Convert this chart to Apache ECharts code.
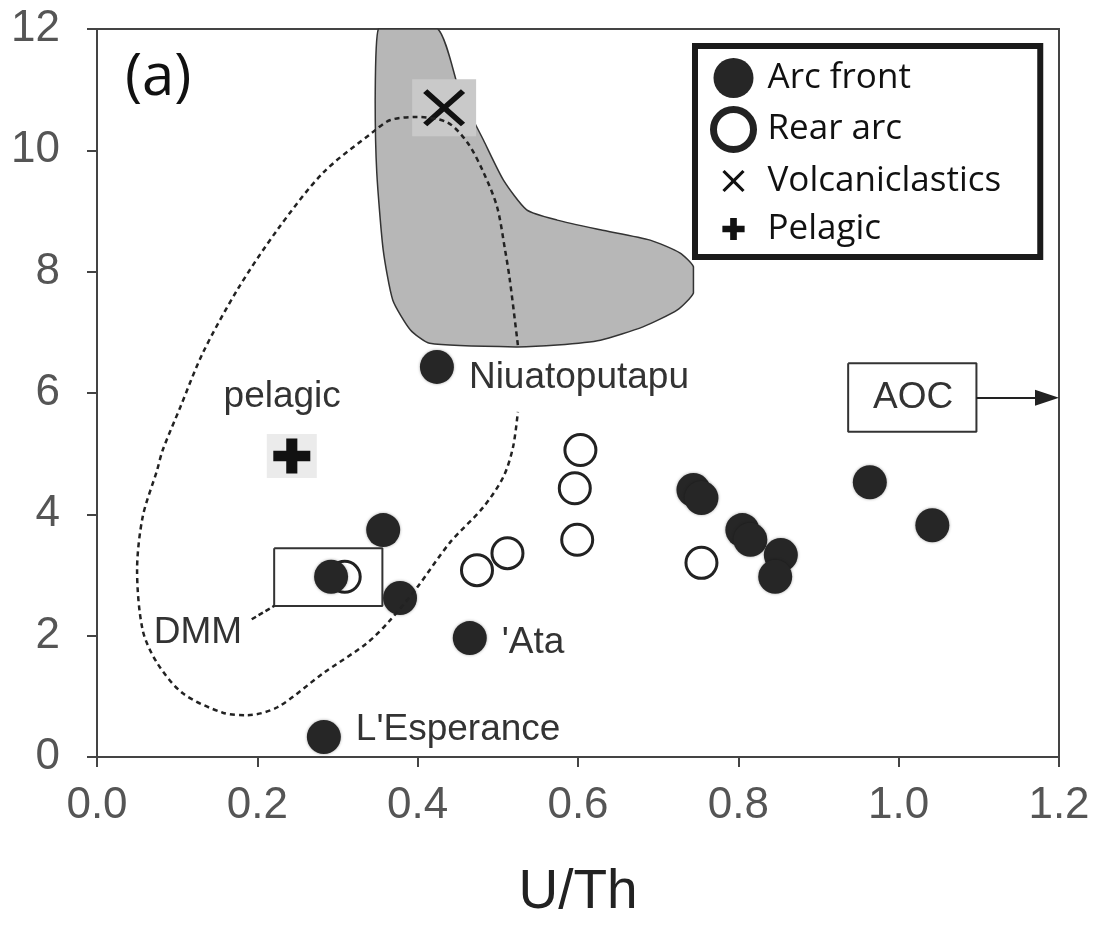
<!DOCTYPE html>
<html>
<head>
<meta charset="utf-8">
<title>U/Th</title>
<script src="https://cdn.jsdelivr.net/npm/echarts@6/dist/echarts.min.js"></script>
<style>
  html, body { margin: 0; padding: 0; background: #fff; }
  #chart { width: 1094px; height: 926px; }
</style>
</head>
<body>
<div id="chart"></div>
<script>
// arc front (filled circles)
const arcFrontX = [0.424, 0.357, 0.378, 0.465, 0.283, 0.292, 0.744, 0.754, 0.805, 0.815, 0.853, 0.846, 0.964, 1.042];
const arcFrontY = [6.43, 3.74, 2.62, 1.96, 0.33, 2.97, 4.40, 4.27, 3.74, 3.58, 3.33, 2.97, 4.53, 3.82];
const arcFrontNames = ['Niuatoputapu', '', '', "'Ata", "L'Esperance", '', '', '', '', '', '', '', '', ''];

// rear arc (open circles)
const rearArcX = [0.603, 0.596, 0.599, 0.512, 0.474, 0.754, 0.309];
const rearArcY = [5.06, 4.43, 3.58, 3.36, 3.08, 3.20, 2.97];

const volcX = [0.433];
const volcY = [10.70];
const pelagicX = [0.243];
const pelagicY = [4.96];

// grey field (volcaniclastics)
const fieldX = [0.351, 0.425, 0.453, 0.482, 0.507, 0.536, 0.574, 0.628, 0.690, 0.727, 0.744, 0.744, 0.724, 0.681, 0.628, 0.574, 0.524, 0.415, 0.391, 0.369, 0.357, 0.349, 0.347];
const fieldY = [12.0, 12.0, 10.94, 10.17, 9.51, 9.02, 8.85, 8.69, 8.52, 8.31, 8.08, 7.65, 7.37, 7.09, 6.87, 6.79, 6.76, 6.82, 7.04, 7.53, 8.36, 9.63, 10.83];

// dashed field outline
const curveX = [0.525, 0.515, 0.509, 0.499, 0.482, 0.462, 0.437, 0.399, 0.366, 0.344, 0.282, 0.225, 0.175, 0.132, 0.104, 0.082, 0.075, 0.057, 0.050, 0.057, 0.075, 0.107, 0.157, 0.187, 0.225, 0.282, 0.337, 0.366, 0.399, 0.440, 0.482, 0.507, 0.519, 0.525];
const curveY = [6.79, 7.86, 8.36, 9.07, 9.64, 10.13, 10.46, 10.55, 10.50, 10.30, 9.63, 8.69, 7.70, 6.66, 5.77, 5.06, 4.73, 3.96, 3.08, 2.09, 1.55, 1.05, 0.73, 0.69, 0.82, 1.38, 1.88, 2.26, 2.79, 3.53, 4.12, 4.62, 5.11, 5.69];

// DMM box and leader
const dmmBoxX = [0.221, 0.356, 0.356, 0.221, 0.221];
const dmmBoxY = [3.44, 3.44, 2.49, 2.49, 3.44];
const dmmLeadX = [0.193, 0.221];
const dmmLeadY = [2.27, 2.49];

// AOC box and arrow
const aocBoxX = [0.937, 1.097, 1.097, 0.937, 0.937];
const aocBoxY = [6.49, 6.49, 5.36, 5.36, 6.49];
const aocArrowX = [1.097, 1.185];
const aocArrowY = [5.92, 5.92];

// free text
const noteText = ['pelagic', 'DMM', 'AOC'];
const noteX = [0.231, 0.126, 1.018];
const noteY = [5.93, 2.04, 5.92];

const pair = (xs, ys) => xs.map((x, i) => [x, ys[i]]);

const crossPath = 'path://M0,1L1,0L5,4L9,0L10,1L6,5L10,9L9,10L5,6L1,10L0,9L4,5Z';
const plusPath = 'path://M3.5,0H6.5V3.5H10V6.5H6.5V10H3.5V6.5H0V3.5H3.5Z';
// same shapes with empty margin for the legend
const crossIcon = 'path://M-4,-4M14,14M0,1L1,0L5,4L9,0L10,1L6,5L10,9L9,10L5,6L1,10L0,9L4,5Z';
const plusIcon = 'path://M-4,-4M14,14M3.5,0H6.5V3.5H10V6.5H6.5V10H3.5V6.5H0V3.5H3.5Z';

const labelOffset = { 'Niuatoputapu': [0, 11], "'Ata": [0, 5], "L'Esperance": [0, -7] };
const textStyleA = { fontFamily: 'Liberation Sans, Arial, sans-serif', fontSize: 37, color: '#333' };

const chart = echarts.init(document.getElementById('chart'));

const option = {
  animation: false,
  backgroundColor: '#fff',
  title: {
    text: '(a)',
    left: 120,
    top: 44,
    textStyle: { fontFamily: 'Open Sans', fontSize: 58, fontWeight: 'normal', color: '#111' }
  },
  legend: {
    orient: 'vertical',
    left: 695,
    top: 46,
    padding: [12, 39, 8, 15],
    itemWidth: 40,
    itemHeight: 40,
    itemGap: 8,
    borderColor: '#1a1a1a',
    borderWidth: 6,
    backgroundColor: '#fff',
    textStyle: { fontFamily: 'Open Sans', fontSize: 35, color: '#111', padding: [0, 0, 0, 9] },
    data: [
      { name: 'Arc front' },
      { name: 'Rear arc', itemStyle: { borderWidth: 7 } },
      { name: 'Volcaniclastics', icon: crossIcon },
      { name: 'Pelagic', icon: plusIcon }
    ]
  },
  grid: {
    left: 97, right: 35, top: 29, bottom: 169,
    show: true, borderColor: '#444', borderWidth: 2
  },
  xAxis: {
    type: 'value',
    min: 0, max: 1.2, interval: 0.2,
    name: 'U/Th',
    nameLocation: 'middle',
    nameGap: 108,
    nameTextStyle: { fontFamily: 'Liberation Sans, Arial, sans-serif', fontSize: 55, color: '#222' },
    axisLine: { lineStyle: { color: '#444', width: 2 } },
    axisTick: { length: 10, lineStyle: { color: '#444', width: 2 } },
    splitLine: { show: false },
    axisLabel: {
      margin: 27,
      fontFamily: 'Liberation Sans, Arial, sans-serif', fontSize: 44, color: '#555',
      formatter: v => v.toFixed(1)
    }
  },
  yAxis: {
    type: 'value',
    min: 0, max: 12, interval: 2,
    axisLine: { show: true, lineStyle: { color: '#444', width: 2 } },
    axisTick: { show: true, length: 10, lineStyle: { color: '#444', width: 2 } },
    splitLine: { show: false },
    axisLabel: {
      margin: 37,
      fontFamily: 'Liberation Sans, Arial, sans-serif', fontSize: 44, color: '#555'
    }
  },
  series: [
    {
      name: 'field',
      type: 'custom',
      silent: true,
      data: [[0.5, 9]],
      renderItem: function (params, api) {
        const pts = fieldX.map((x, i) => api.coord([x, fieldY[i]]));
        const xs = pts.map(p => p[0]);
        const ys = pts.map(p => p[1]);
        const box = [[Math.min(...xs), Math.min(...ys)], [Math.max(...xs), Math.max(...ys)]];
        return {
          type: 'polygon',
          shape: { points: pts, smooth: 0.2, smoothConstraint: box },
          style: { fill: '#b7b7b7', stroke: '#333', lineWidth: 1.5 }
        };
      }
    },
    {
      name: 'outline',
      type: 'line',
      silent: true,
      data: pair(curveX, curveY),
      smooth: 0.3,
      showSymbol: false,
      lineStyle: { color: '#222', width: 2.5, type: [5, 4] }
    },
    {
      name: 'dmmBox',
      type: 'line',
      silent: true,
      data: pair(dmmBoxX, dmmBoxY),
      showSymbol: false,
      lineStyle: { color: '#333', width: 2 }
    },
    {
      name: 'dmmLead',
      type: 'line',
      silent: true,
      data: pair(dmmLeadX, dmmLeadY),
      showSymbol: false,
      lineStyle: { color: '#222', width: 2.5, type: [5, 3] }
    },
    {
      name: 'aocBox',
      type: 'line',
      silent: true,
      data: pair(aocBoxX, aocBoxY),
      showSymbol: false,
      lineStyle: { color: '#333', width: 2 },
      markLine: {
        silent: true,
        symbol: ['none', 'triangle'],
        symbolSize: [16, 24],
        label: { show: false },
        lineStyle: { color: '#222', width: 2, type: 'solid' },
        data: [[{ coord: [aocArrowX[0], aocArrowY[0]] }, { coord: [aocArrowX[1], aocArrowY[1]] }]]
      }
    },
    {
      name: 'symbolBg',
      type: 'scatter',
      silent: true,
      symbol: 'rect',
      data: [
        { value: [volcX[0], volcY[0]], symbolSize: [64, 57], itemStyle: { color: '#c9c9c9', opacity: 1 } },
        { value: [pelagicX[0], pelagicY[0]], symbolSize: [50, 44], itemStyle: { color: '#ebebeb', opacity: 1 } }
      ]
    },
    {
      name: 'Rear arc',
      type: 'scatter',
      symbol: 'circle',
      symbolSize: 31,
      itemStyle: { color: '#fff', borderColor: '#222', borderWidth: 3, opacity: 1 },
      data: pair(rearArcX, rearArcY)
    },
    {
      name: 'Arc front',
      type: 'scatter',
      symbol: 'circle',
      symbolSize: 34,
      itemStyle: { color: '#262626', opacity: 1, shadowBlur: 3, shadowColor: 'rgba(0,0,0,0.35)' },
      data: arcFrontX.map((x, i) => {
        const n = arcFrontNames[i];
        const item = { name: n, value: [x, arcFrontY[i]] };
        if (n) {
          item.label = {
            show: true, position: 'right', distance: 15,
            offset: labelOffset[n], formatter: '{b}', ...textStyleA
          };
        }
        return item;
      })
    },
    {
      name: 'Volcaniclastics',
      type: 'scatter',
      symbol: crossPath,
      symbolSize: [42, 37],
      itemStyle: { color: '#111', opacity: 1 },
      data: pair(volcX, volcY)
    },
    {
      name: 'Pelagic',
      type: 'scatter',
      symbol: plusPath,
      symbolSize: [37, 35],
      itemStyle: { color: '#111', opacity: 1 },
      data: pair(pelagicX, pelagicY)
    },
    {
      name: 'notes',
      type: 'scatter',
      silent: true,
      symbolSize: 0,
      itemStyle: { opacity: 1 },
      data: noteText.map((t, i) => ({ name: t, value: [noteX[i], noteY[i]] })),
      label: { show: true, position: 'inside', formatter: '{b}', ...textStyleA }
    }
  ]
};

chart.setOption(option);
window.addEventListener('resize', () => chart.resize());
</script>
</body>
</html>
